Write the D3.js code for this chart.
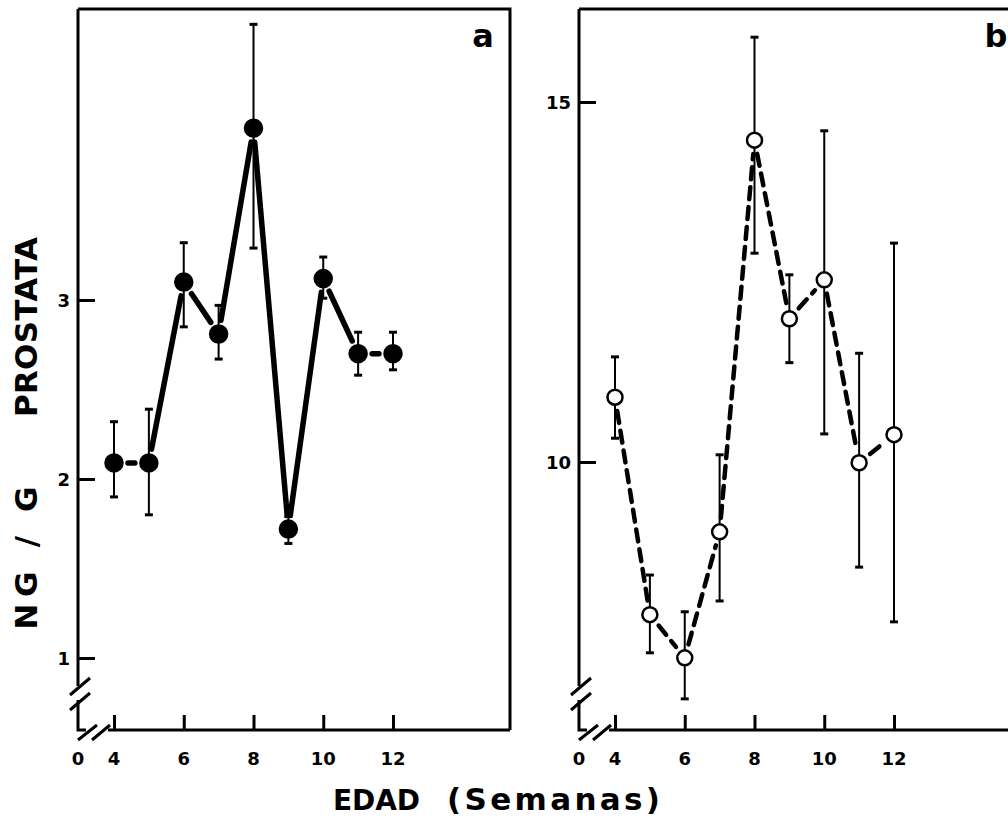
<!DOCTYPE html>
<html>
<head>
<meta charset="utf-8">
<script src="https://cdn.jsdelivr.net/npm/d3@7"></script>
<style>
  body { margin: 0; background: #fff; }
  text { font-family: "DejaVu Sans", sans-serif; font-weight: bold; fill: #000; }
</style>
</head>
<body>
<div id="chart"></div>
<script>
// ages in weeks
const weeks = [4, 5, 6, 7, 8, 9, 10, 11, 12];

// panel a (filled circles, solid line)
const meanA = [2.09, 2.09, 3.10, 2.81, 3.96, 1.72, 3.12, 2.70, 2.70];
const hiA   = [2.32, 2.39, 3.32, 2.97, 4.54, 1.79, 3.24, 2.82, 2.82];
const loA   = [1.90, 1.80, 2.85, 2.67, 3.29, 1.64, 3.01, 2.58, 2.61];

// panel b (open circles, dashed line)
const meanB = [10.90, 7.88, 7.28, 9.03, 14.47, 11.99, 12.53, 9.99, 10.38];
const hiB   = [11.46, 8.43, 7.92, 10.10, 15.90, 12.60, 14.60, 11.51, 13.04];
const loB   = [10.33, 7.35, 6.71, 8.07, 12.90, 11.38, 10.39, 8.54, 7.78];

const xTicks = [4, 6, 8, 10, 12];
const yTicksA = [1, 2, 3];
const yTicksB = [10, 15];

const W = 1008, H = 824;

const svg = d3.select("#chart")
  .append("svg")
    .attr("width", W)
    .attr("height", H);

svg.append("rect").attr("width", W).attr("height", H).attr("fill", "#fff");

// draw one panel
function panel(opt) {
  const g = svg.append("g");
  const L = opt.left, T = 9, R = opt.right, B = 730;
  const x = d3.scaleLinear().domain([4, 12]).range([opt.left + 36, opt.left + 315]);
  const y = opt.y;

  // frame top + right
  g.append("path")
    .attr("d", `M${L},${T} H${R} V${B}`)
    .attr("fill", "none").attr("stroke", "#000").attr("stroke-width", 3);

  // y axis with break
  g.append("path")
    .attr("d", `M${L},${T} V${B - 44} M${L},${B - 30} V${B} H${L + 8}`)
    .attr("fill", "none").attr("stroke", "#000").attr("stroke-width", 3);
  g.append("path")
    .attr("d", `M${L - 8},${B - 35} L${L + 12},${B - 52} M${L - 8},${B - 20} L${L + 12},${B - 37}`)
    .attr("fill", "none").attr("stroke", "#000").attr("stroke-width", 3);

  // x axis with break
  g.append("path")
    .attr("d", `M${L + 30},${B} H${R}`)
    .attr("fill", "none").attr("stroke", "#000").attr("stroke-width", 3);
  g.append("path")
    .attr("d", `M${L},${B + 10} L${L + 19},${B - 5} M${L + 14},${B + 10} L${L + 32},${B - 5}`)
    .attr("fill", "none").attr("stroke", "#000").attr("stroke-width", 3);

  // x ticks
  const xAxis = d3.axisTop(x).tickValues(xTicks).tickSize(15).tickFormat("");
  const xa = g.append("g").attr("transform", `translate(0,${B})`).call(xAxis);
  xa.select(".domain").remove();
  xa.selectAll("line").attr("stroke", "#000").attr("stroke-width", 3);

  g.selectAll(".xlab")
    .data([0].concat(xTicks))
    .join("text")
      .attr("x", d => d === 0 ? L : x(d))
      .attr("y", 765)
      .attr("text-anchor", "middle")
      .style("font-size", "18px")
      .text(d => d);

  // y ticks
  const yAxis = d3.axisRight(y).tickValues(opt.yTicks).tickSize(17).tickFormat("");
  const ya = g.append("g").attr("transform", `translate(${L},0)`).call(yAxis);
  ya.select(".domain").remove();
  ya.selectAll("line").attr("stroke", "#000").attr("stroke-width", 3);

  g.selectAll(".ylab")
    .data(opt.yTicks)
    .join("text")
      .attr("x", L - 8)
      .attr("y", d => y(d) + 7)
      .attr("text-anchor", "end")
      .style("font-size", "18px")
      .text(d => d);

  const pts = weeks.map((w, i) => ({
    x: x(w), y: y(opt.mean[i]), hi: y(opt.hi[i]), lo: y(opt.lo[i])
  }));

  // error bars
  const eb = g.selectAll(".eb").data(pts).join("g");
  eb.append("line")
    .attr("x1", d => d.x).attr("x2", d => d.x)
    .attr("y1", d => d.hi).attr("y2", d => d.lo)
    .attr("stroke", "#000").attr("stroke-width", 2);
  eb.selectAll(".cap")
    .data(d => [{x: d.x, y: d.hi}, {x: d.x, y: d.lo}])
    .join("line")
      .attr("x1", d => d.x - 4).attr("x2", d => d.x + 4)
      .attr("y1", d => d.y).attr("y2", d => d.y)
      .attr("stroke", "#000").attr("stroke-width", 3);

  // connecting segments, stopped short of each marker
  const gap = opt.gap;
  const segs = d3.pairs(pts).map(([a, b]) => {
    const dx = b.x - a.x, dy = b.y - a.y, len = Math.hypot(dx, dy);
    const ux = dx / len, uy = dy / len;
    return [[a.x + ux * gap, a.y + uy * gap], [b.x - ux * gap, b.y - uy * gap]];
  });
  g.selectAll(".seg")
    .data(segs)
    .join("path")
      .attr("d", d3.line())
      .attr("fill", "none")
      .attr("stroke", "#000")
      .attr("stroke-width", opt.lineW)
      .attr("stroke-dasharray", opt.dash)
      .attr("stroke-linecap", "round");

  // markers
  g.selectAll(".pt")
    .data(pts)
    .join("circle")
      .attr("cx", d => d.x)
      .attr("cy", d => d.y)
      .attr("r", opt.r)
      .attr("fill", opt.fill)
      .attr("stroke", "#000")
      .attr("stroke-width", 2.5);

  g.append("text")
    .attr("x", opt.labelX)
    .attr("y", 47)
    .attr("text-anchor", "middle")
    .style("font-size", "32px")
    .text(opt.label);
}

panel({
  left: 78, right: 510,
  y: d3.scaleLinear().domain([1, 3]).range([658, 300]),
  yTicks: yTicksA,
  mean: meanA, hi: hiA, lo: loA,
  r: 8.5, fill: "#000", gap: 14, lineW: 5.5, dash: null,
  label: "a", labelX: 483
});

panel({
  left: 579, right: 1030,
  y: d3.scaleLinear().domain([10, 15]).range([462, 102]),
  yTicks: yTicksB,
  mean: meanB, hi: hiB, lo: loB,
  r: 7.5, fill: "#fff", gap: 14, lineW: 4.5, dash: "12,8",
  label: "b", labelX: 996
});

// axis titles
const yTitle = svg.append("g").attr("transform", "translate(37,0) rotate(-90)");
yTitle.append("text")
  .attr("x", -558)
  .attr("text-anchor", "middle")
  .attr("textLength", 143)
  .attr("lengthAdjust", "spacing")
  .style("font-size", "31px")
  .text("NG / G");
yTitle.append("text")
  .attr("x", -327)
  .attr("text-anchor", "middle")
  .attr("textLength", 180)
  .attr("lengthAdjust", "spacing")
  .style("font-size", "31px")
  .text("PROSTATA");

svg.append("text")
  .attr("x", 333)
  .attr("y", 810)
  .attr("textLength", 87)
  .attr("lengthAdjust", "spacing")
  .style("font-size", "28px")
  .text("EDAD");
svg.append("text")
  .attr("x", 447)
  .attr("y", 810)
  .attr("textLength", 213)
  .attr("lengthAdjust", "spacing")
  .style("font-size", "31px")
  .text("(Semanas)");
</script>
</body>
</html>
